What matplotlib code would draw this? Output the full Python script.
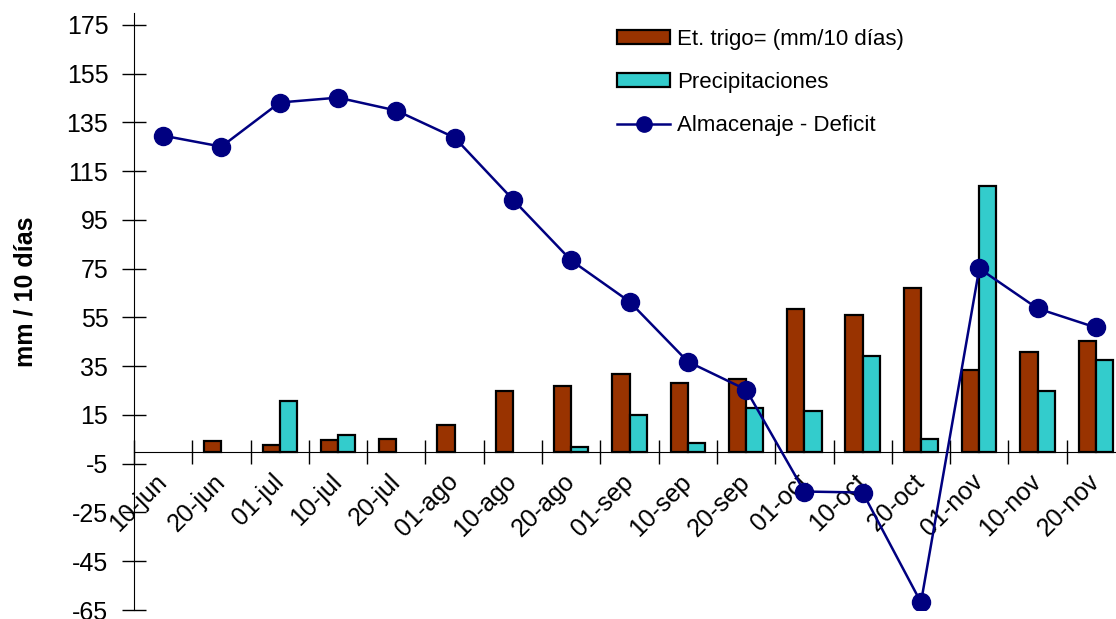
import numpy as np
import matplotlib.pyplot as plt
from matplotlib.patches import Patch
from matplotlib.lines import Line2D

plt.rcParams['font.family'] = ['Liberation Sans', 'DejaVu Sans']
plt.rcParams['axes.unicode_minus'] = False

fechas = ['10-jun', '20-jun', '01-jul', '10-jul', '20-jul', '01-ago', '10-ago',
          '20-ago', '01-sep', '10-sep', '20-sep', '01-oct', '10-oct', '20-oct',
          '01-nov', '10-nov', '20-nov']
et_trigo = [0, 4.5, 2.7, 4.9, 5.2, 11.1, 25.0, 27.1, 31.9, 28.2, 29.8,
            58.5, 56.1, 67.0, 33.6, 41.0, 45.5]
precip = [0, 0, 20.9, 6.8, 0, 0, 0, 1.9, 14.8, 3.6, 17.9,
          16.8, 39.1, 5.3, 108.8, 24.7, 37.6]
almacenaje = [129.6, 125.1, 143.2, 145.2, 139.9, 128.8, 103.4, 78.4, 61.5,
              36.9, 25.4, -16.4, -16.8, -61.9, 75.1, 58.7, 50.9]
y_ticks = [175, 155, 135, 115, 95, 75, 55, 35, 15, -5, -25, -45, -65]

c_et = '#993300'
c_pp = '#33CCCC'
c_alm = '#000080'

fig = plt.figure(figsize=(11.16, 6.19), dpi=100)
ax = fig.add_axes([134 / 1116, 9 / 619, 991 / 1116, 597.2 / 619])

# x axis runs through zero (this resets the x ticks, so do it first)
ax.spines['top'].set_visible(False)
ax.spines['right'].set_visible(False)
ax.spines['bottom'].set_position(('data', 0))

x = np.arange(len(fechas))
w = 0.295
et = np.array(et_trigo)
pp = np.array(precip)
# empty decades get no bar at all
b1 = ax.bar(x - w / 2, et, w, color=c_et, edgecolor='black', linewidth=1.6, zorder=2)
b2 = ax.bar(x + w / 2, pp, w, color=c_pp, edgecolor='black', linewidth=1.6, zorder=2)
for bars, vals in ((b1, et), (b2, pp)):
    for rect, v in zip(bars, vals):
        if v == 0:
            rect.set_visible(False)
ax.plot(x, almacenaje, color=c_alm, linewidth=1.8, marker='o', markersize=13, zorder=3)

ax.set_xlim(-0.5, len(fechas) - 0.5)
ax.set_ylim(-65, 180)
ax.set_yticks(y_ticks)
ax.tick_params(axis='y', direction='inout', length=17, width=1, labelsize=18, pad=10)

# labels sit on the category centres, tick marks on the boundaries
ax.set_xticks(x)
ax.set_xticklabels(fechas)
ax.set_xticks(np.arange(-0.5, len(fechas), 1), minor=True)
ax.tick_params(axis='x', which='major', length=0, pad=19, labelsize=18,
               labelrotation=45)
ax.tick_params(axis='x', which='minor', direction='inout', length=17, width=1)
plt.setp(ax.get_xticklabels(), ha='right', va='center', rotation_mode='anchor')

fig.text(26 / 1116, 1 - 292 / 619, 'mm / 10 días', rotation=90, fontsize=18,
         fontweight='bold', ha='center', va='center')

handles = [Patch(facecolor=c_et, edgecolor='black', linewidth=1.6),
           Patch(facecolor=c_pp, edgecolor='black', linewidth=1.6),
           Line2D([], [], color=c_alm, linewidth=1.8, marker='o', markersize=11)]
ax.legend(handles, ['Et. trigo= (mm/10 días)', 'Precipitaciones', 'Almacenaje - Deficit'],
          loc='upper left', bbox_to_anchor=(617 / 1116, 1 - 29 / 619),
          bbox_transform=fig.transFigure, frameon=False, fontsize=16,
          handlelength=2.4, handleheight=0.6, handletextpad=0.3,
          labelspacing=1.0, borderaxespad=0, borderpad=0)

fig.savefig('out.png', dpi=100)
